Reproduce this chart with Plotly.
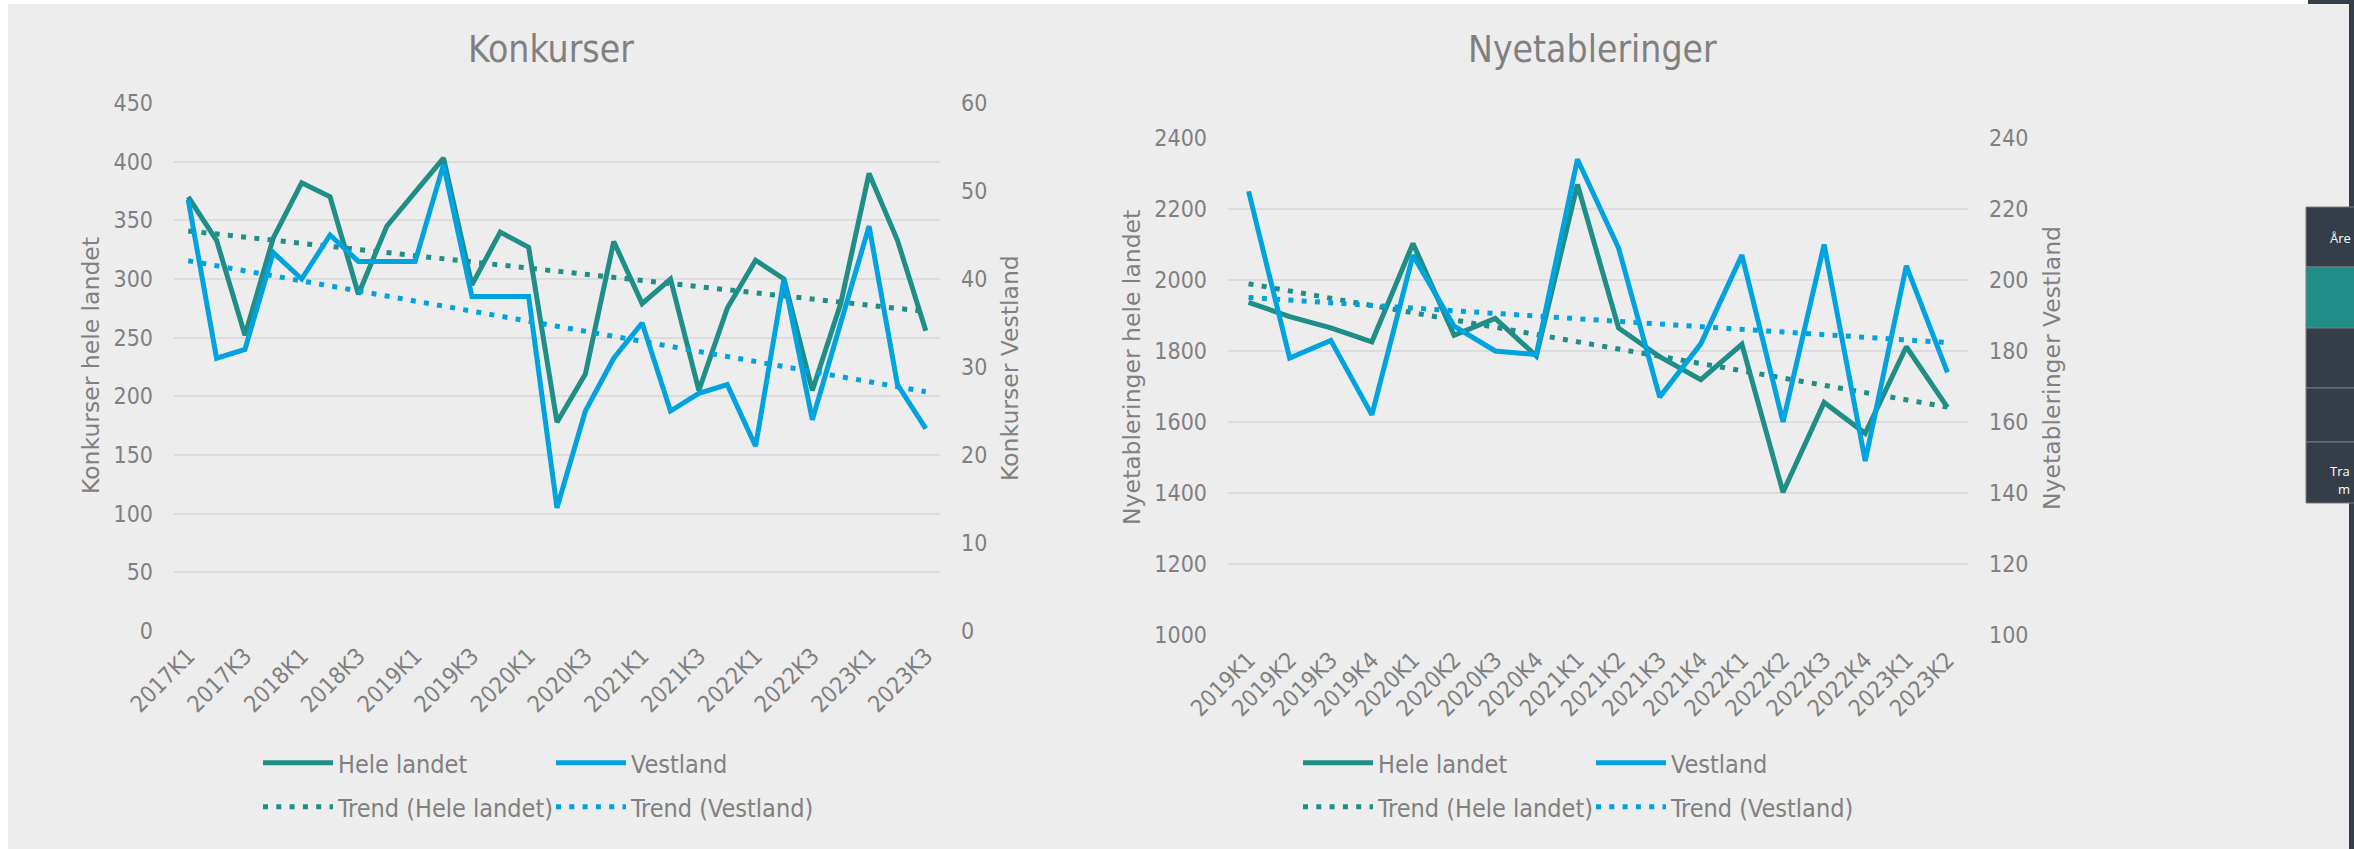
import numpy as np
import plotly.graph_objects as go

W, H = 2354, 849

# ---- Konkurser (bankruptcies), quarterly ----
konk_kvartal = [
    "2017K1", "2017K2", "2017K3", "2017K4", "2018K1", "2018K2", "2018K3", "2018K4",
    "2019K1", "2019K2", "2019K3", "2019K4", "2020K1", "2020K2", "2020K3", "2020K4",
    "2021K1", "2021K2", "2021K3", "2021K4", "2022K1", "2022K2", "2022K3", "2022K4",
    "2023K1", "2023K2", "2023K3",
]
konk_hele_landet = [370, 333, 252, 335, 382, 370, 287, 345, 374, 403, 295, 340, 327, 178,
                    219, 332, 279, 300, 205, 275, 316, 300, 205, 279, 390, 333, 256]
konk_vestland = [49, 31, 32, 43, 40, 45, 42, 42, 42, 53, 38, 38, 38, 14,
                 25, 31, 35, 25, 27, 28, 21, 40, 24, 35, 46, 28, 23]

# ---- Nyetableringer (new businesses), quarterly ----
nye_kvartal = [
    "2019K1", "2019K2", "2019K3", "2019K4", "2020K1", "2020K2", "2020K3", "2020K4",
    "2021K1", "2021K2", "2021K3", "2021K4", "2022K1", "2022K2", "2022K3", "2022K4",
    "2023K1", "2023K2",
]
nye_hele_landet = [1937, 1897, 1865, 1826, 2103, 1844, 1892, 1786, 2269,
                   1865, 1784, 1719, 1819, 1402, 1655, 1568, 1812, 1641]
nye_vestland = [225, 178, 183, 162, 207, 187, 180, 179, 234,
                209, 167, 182, 207, 160, 210, 149, 204, 174]

GREEN = "#1F8E86"
BLUE = "#00A3E0"
TXT = "#808080"
GRID = "#DCDCDC"
BG = "#EDEDED"
NARROW = "DejaVu Sans Condensed, Liberation Sans, sans-serif"
WIDE = "DejaVu Sans, Verdana, sans-serif"
LW = 5
DOT = "5px,8.3px"


def trend(values):
    """Linear least-squares trend over the category index."""
    idx = np.arange(len(values))
    k, m = np.polyfit(idx, values, 1)
    return (k * idx + m).tolist()


def px_x(p):
    return p / W


def px_y(p):
    return 1 - p / H


fig = go.Figure()

# Konkurser
fig.add_trace(go.Scatter(x=konk_kvartal, y=konk_hele_landet, name="Hele landet", mode="lines",
                         line=dict(color=GREEN, width=LW), xaxis="x", yaxis="y", legend="legend"))
fig.add_trace(go.Scatter(x=konk_kvartal, y=trend(konk_hele_landet), name="Trend (Hele landet)",
                         mode="lines", line=dict(color=GREEN, width=LW, dash=DOT),
                         xaxis="x", yaxis="y", legend="legend2"))
fig.add_trace(go.Scatter(x=konk_kvartal, y=konk_vestland, name="Vestland", mode="lines",
                         line=dict(color=BLUE, width=LW), xaxis="x", yaxis="y2", legend="legend"))
fig.add_trace(go.Scatter(x=konk_kvartal, y=trend(konk_vestland), name="Trend (Vestland)",
                         mode="lines", line=dict(color=BLUE, width=LW, dash=DOT),
                         xaxis="x", yaxis="y2", legend="legend2"))

# Nyetableringer
fig.add_trace(go.Scatter(x=nye_kvartal, y=nye_hele_landet, name="Hele landet", mode="lines",
                         line=dict(color=GREEN, width=LW), xaxis="x2", yaxis="y3", legend="legend3"))
fig.add_trace(go.Scatter(x=nye_kvartal, y=trend(nye_hele_landet), name="Trend (Hele landet)",
                         mode="lines", line=dict(color=GREEN, width=LW, dash=DOT),
                         xaxis="x2", yaxis="y3", legend="legend4"))
fig.add_trace(go.Scatter(x=nye_kvartal, y=nye_vestland, name="Vestland", mode="lines",
                         line=dict(color=BLUE, width=LW), xaxis="x2", yaxis="y4", legend="legend3"))
fig.add_trace(go.Scatter(x=nye_kvartal, y=trend(nye_vestland), name="Trend (Vestland)",
                         mode="lines", line=dict(color=BLUE, width=LW, dash=DOT),
                         xaxis="x2", yaxis="y4", legend="legend4"))

tickfont = dict(family=NARROW, size=23, color=TXT)

xcommon = dict(type="category", showgrid=False, zeroline=False, showline=False, ticks="",
               tickangle=-45, tickfont=tickfont, ticklabelstandoff=6, automargin=False)
ycommon = dict(showline=False, zeroline=False, ticks="", tickfont=tickfont, ticklabelstandoff=20,
               automargin=False)

fig.update_layout(
    width=W, height=H,
    margin=dict(l=0, r=0, t=0, b=0, autoexpand=False),
    paper_bgcolor=BG, plot_bgcolor="rgba(0,0,0,0)",
    showlegend=True,
    xaxis=dict(xcommon, domain=[px_x(174), px_x(940)], anchor="y",
               range=[-0.5, len(konk_kvartal) - 0.5], tickvals=konk_kvartal[::2]),
    yaxis=dict(ycommon, domain=[px_y(631), px_y(103)], anchor="x", range=[0, 450], dtick=50,
               showgrid=True, gridcolor=GRID, gridwidth=2),
    yaxis2=dict(ycommon, overlaying="y", side="right", anchor="x", range=[0, 60], dtick=10,
                showgrid=False),
    xaxis2=dict(xcommon, domain=[px_x(1228), px_x(1968)], anchor="y3",
                range=[-0.5, len(nye_kvartal) - 0.5], tickvals=nye_kvartal),
    yaxis3=dict(ycommon, domain=[px_y(635), px_y(138)], anchor="x2", range=[1000, 2400], dtick=200,
                showgrid=True, gridcolor=GRID, gridwidth=2),
    yaxis4=dict(ycommon, overlaying="y3", side="right", anchor="x2", range=[100, 240], dtick=20,
                showgrid=False),
)

legend_style = dict(orientation="h", xanchor="left", yanchor="middle", bgcolor="rgba(0,0,0,0)",
                    font=dict(family=NARROW, size=25, color=TXT), entrywidth=208,
                    entrywidthmode="pixels", itemwidth=70, traceorder="normal",
                    itemclick=False, itemdoubleclick=False)
fig.update_layout(
    legend=dict(legend_style, x=px_x(258), y=px_y(763)),
    legend2=dict(legend_style, x=px_x(258), y=px_y(807)),
    legend3=dict(legend_style, x=px_x(1298), y=px_y(763)),
    legend4=dict(legend_style, x=px_x(1298), y=px_y(807)),
)

annotations = [
    dict(text="Konkurser", x=px_x(551), y=px_y(50),
         font=dict(family=NARROW, size=37, color=TXT)),
    dict(text="Nyetableringer", x=px_x(1592), y=px_y(50),
         font=dict(family=NARROW, size=37, color=TXT)),
    dict(text="Konkurser hele landet", x=px_x(91), y=px_y(366), textangle=-90,
         font=dict(family=WIDE, size=23.5, color=TXT)),
    dict(text="Konkurser Vestland", x=px_x(1010), y=px_y(368), textangle=-90,
         font=dict(family=WIDE, size=23.5, color=TXT)),
    dict(text="Nyetableringer hele landet", x=px_x(1132), y=px_y(368), textangle=-90,
         font=dict(family=WIDE, size=23.5, color=TXT)),
    dict(text="Nyetableringer Vestland", x=px_x(2052), y=px_y(368), textangle=-90,
         font=dict(family=WIDE, size=23.5, color=TXT)),
    # side panel labels
    dict(text="Åre", x=px_x(2328), y=px_y(238), xanchor="left",
         font=dict(family="Open Sans, sans-serif", size=13, color="#FFFFFF")),
    dict(text="Tra", x=px_x(2328), y=px_y(471), xanchor="left",
         font=dict(family="Open Sans, sans-serif", size=13, color="#FFFFFF")),
    dict(text="m", x=px_x(2336), y=px_y(489), xanchor="left",
         font=dict(family="Open Sans, sans-serif", size=13, color="#FFFFFF")),
]
for a in annotations:
    a.setdefault("xanchor", "center")
    a.update(xref="paper", yref="paper", yanchor="middle", showarrow=False)
fig.update_layout(annotations=annotations)

DARK = "#353E48"
shapes = [
    # white page edges
    dict(type="rect", x0=0, x1=W, y0=0, y1=4, fillcolor="#FFFFFF", layer="below"),
    dict(type="rect", x0=0, x1=8, y0=0, y1=H, fillcolor="#FFFFFF", layer="below"),
    # side panel
    dict(type="rect", x0=2349, x1=W, y0=0, y1=H, fillcolor=DARK, layer="above"),
    dict(type="rect", x0=2308, x1=W, y0=0, y1=4, fillcolor=DARK, layer="above"),
    dict(type="rect", x0=2306, x1=W + 2, y0=207, y1=267, fillcolor=DARK, layer="above",
         line=dict(color="#7A7A7A", width=1)),
    dict(type="rect", x0=2306, x1=W + 2, y0=267, y1=328, fillcolor="#1F8E86", layer="above",
         line=dict(color="#7A7A7A", width=1)),
    dict(type="rect", x0=2306, x1=W + 2, y0=328, y1=388, fillcolor=DARK, layer="above",
         line=dict(color="#7A7A7A", width=1)),
    dict(type="rect", x0=2306, x1=W + 2, y0=388, y1=442, fillcolor=DARK, layer="above",
         line=dict(color="#7A7A7A", width=1)),
    dict(type="rect", x0=2306, x1=W + 2, y0=442, y1=503, fillcolor=DARK, layer="above",
         line=dict(color="#7A7A7A", width=1)),
]
for s in shapes:
    s.setdefault("line", dict(width=0))
    s.update(xref="paper", yref="paper",
             x0=px_x(s["x0"]), x1=px_x(s["x1"]), y0=px_y(s["y0"]), y1=px_y(s["y1"]))
fig.update_layout(shapes=shapes)

fig.write_html("out.html")
